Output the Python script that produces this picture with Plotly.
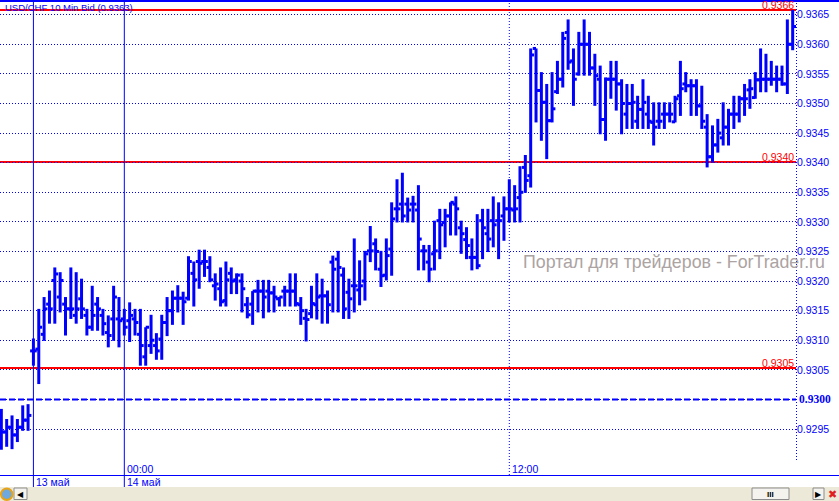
import plotly.graph_objects as go

W, H = 839, 501

# ---------------- data (10-minute bars, USD/CHF bid) ----------------
bar = list(range(149))

open_ = [
    0.92950, 0.92945, 0.92953, 0.92940, 0.92953, 0.92965,
    0.93082, 0.93085, 0.93110, 0.93161, 0.93201, 0.93173, 0.93161, 0.93153, 0.93142, 0.93170,
    0.93142, 0.93122, 0.93161, 0.93142, 0.93113, 0.93136, 0.93136,
    0.93136, 0.93133, 0.93136, 0.93110, 0.93072, 0.93091, 0.93091, 0.93102, 0.93130, 0.93150,
    0.93171, 0.93171, 0.93171, 0.93213, 0.93233, 0.93233, 0.93223, 0.93192, 0.93187, 0.93167,
    0.93213, 0.93202, 0.93200, 0.93160, 0.93161, 0.93183, 0.93183, 0.93183, 0.93180, 0.93170,
    0.93183, 0.93183, 0.93183, 0.93160, 0.93137, 0.93145, 0.93160,
    0.93175, 0.93175, 0.93232, 0.93237, 0.93210, 0.93181, 0.93192, 0.93185, 0.93200, 0.93251,
    0.93263, 0.93220, 0.93210, 0.93254, 0.93322, 0.93330, 0.93330, 0.93330, 0.93320, 0.93251,
    0.93232, 0.93246, 0.93302, 0.93299, 0.93310, 0.93330, 0.93290, 0.93270, 0.93240, 0.93240,
    0.93302, 0.93280, 0.93302, 0.93302, 0.93310, 0.93322, 0.93320, 0.93341,
    0.93392, 0.93378, 0.93593, 0.93522, 0.93502, 0.93471, 0.93520, 0.93541, 0.93620, 0.93572,
    0.93550, 0.93600, 0.93600, 0.93560, 0.93541, 0.93473, 0.93541, 0.93541, 0.93533, 0.93482,
    0.93500, 0.93470, 0.93490, 0.93482, 0.93468, 0.93470, 0.93482, 0.93482, 0.93469, 0.93513,
    0.93533, 0.93530, 0.93530, 0.93496, 0.93460, 0.93410, 0.93430, 0.93442, 0.93460, 0.93482,
    0.93482, 0.93508, 0.93523, 0.93510, 0.93540, 0.93541, 0.93541, 0.93541, 0.93541, 0.93533,
    0.93600,
]

high = [
    0.92984, 0.92967, 0.92973, 0.92967, 0.92990, 0.92992,
    0.93103, 0.93153, 0.93173, 0.93184, 0.93223, 0.93215, 0.93173, 0.93223, 0.93215, 0.93204,
    0.93153, 0.93192, 0.93173, 0.93153, 0.93142, 0.93192, 0.93173,
    0.93153, 0.93164, 0.93153, 0.93153, 0.93122, 0.93143, 0.93112, 0.93143, 0.93173, 0.93184,
    0.93193, 0.93182, 0.93242, 0.93233, 0.93253, 0.93253, 0.93242, 0.93213, 0.93223, 0.93233,
    0.93223, 0.93213, 0.93213, 0.93173, 0.93183, 0.93202, 0.93202, 0.93202, 0.93192, 0.93173,
    0.93192, 0.93213, 0.93213, 0.93173, 0.93153, 0.93192, 0.93213,
    0.93204, 0.93184, 0.93243, 0.93251, 0.93223, 0.93204, 0.93272, 0.93235, 0.93251, 0.93293,
    0.93272, 0.93251, 0.93272, 0.93333, 0.93372, 0.93383, 0.93341, 0.93344, 0.93362, 0.93261,
    0.93261, 0.93302, 0.93322, 0.93322, 0.93333, 0.93343, 0.93302, 0.93291, 0.93272, 0.93313,
    0.93322, 0.93322, 0.93343, 0.93333, 0.93343, 0.93372, 0.93362, 0.93394,
    0.93413, 0.93593, 0.93593, 0.93553, 0.93533, 0.93553, 0.93572, 0.93621, 0.93642, 0.93593,
    0.93621, 0.93642, 0.93621, 0.93584, 0.93564, 0.93544, 0.93572, 0.93572, 0.93541, 0.93533,
    0.93533, 0.93513, 0.93541, 0.93513, 0.93502, 0.93502, 0.93502, 0.93502, 0.93513, 0.93572,
    0.93553, 0.93541, 0.93541, 0.93530, 0.93482, 0.93463, 0.93474, 0.93502, 0.93491, 0.93513,
    0.93513, 0.93533, 0.93541, 0.93553, 0.93593, 0.93584, 0.93572, 0.93564, 0.93564, 0.93642,
    0.93658,
]

low = [
    0.92915, 0.92920, 0.92916, 0.92928, 0.92947, 0.92947,
    0.93057, 0.93026, 0.93099, 0.93128, 0.93128, 0.93147, 0.93108, 0.93136, 0.93128, 0.93136,
    0.93108, 0.93116, 0.93116, 0.93108, 0.93088, 0.93099, 0.93088,
    0.93108, 0.93097, 0.93108, 0.93057, 0.93057, 0.93077, 0.93067, 0.93067, 0.93107, 0.93126,
    0.93147, 0.93126, 0.93167, 0.93157, 0.93187, 0.93207, 0.93198, 0.93167, 0.93157, 0.93157,
    0.93178, 0.93178, 0.93147, 0.93137, 0.93126, 0.93147, 0.93137, 0.93147, 0.93147, 0.93157,
    0.93157, 0.93157, 0.93157, 0.93126, 0.93098, 0.93137, 0.93135,
    0.93128, 0.93128, 0.93147, 0.93147, 0.93136, 0.93136, 0.93147, 0.93159, 0.93167, 0.93232,
    0.93218, 0.93190, 0.93201, 0.93209, 0.93299, 0.93299, 0.93299, 0.93299, 0.93218, 0.93218,
    0.93198, 0.93218, 0.93237, 0.93257, 0.93277, 0.93277, 0.93246, 0.93237, 0.93218, 0.93220,
    0.93237, 0.93249, 0.93257, 0.93237, 0.93268, 0.93299, 0.93299, 0.93299,
    0.93349, 0.93358, 0.93468, 0.93437, 0.93406, 0.93468, 0.93516, 0.93527, 0.93557, 0.93496,
    0.93547, 0.93547, 0.93547, 0.93496, 0.93448, 0.93437, 0.93508, 0.93488, 0.93448, 0.93457,
    0.93457, 0.93457, 0.93457, 0.93457, 0.93429, 0.93457, 0.93457, 0.93468, 0.93468, 0.93479,
    0.93519, 0.93479, 0.93479, 0.93457, 0.93392, 0.93400, 0.93417, 0.93429, 0.93429, 0.93457,
    0.93468, 0.93479, 0.93491, 0.93508, 0.93519, 0.93519, 0.93530, 0.93519, 0.93530, 0.93516,
    0.93590,
]

close = [
    0.92945, 0.92953, 0.92940, 0.92953, 0.92965, 0.92973,
    0.93082, 0.93122, 0.93153, 0.93153, 0.93212, 0.93201, 0.93153, 0.93153, 0.93153, 0.93153,
    0.93122, 0.93142, 0.93153, 0.93128, 0.93108, 0.93173, 0.93133,
    0.93122, 0.93142, 0.93130, 0.93091, 0.93122, 0.93100, 0.93082, 0.93130, 0.93150, 0.93171,
    0.93171, 0.93165, 0.93233, 0.93202, 0.93230, 0.93233, 0.93202, 0.93195, 0.93165, 0.93202,
    0.93200, 0.93210, 0.93187, 0.93143, 0.93183, 0.93183, 0.93173, 0.93180, 0.93173, 0.93173,
    0.93183, 0.93183, 0.93162, 0.93150, 0.93135, 0.93162, 0.93173,
    0.93175, 0.93160, 0.93220, 0.93223, 0.93153, 0.93170, 0.93192, 0.93192, 0.93246, 0.93251,
    0.93250, 0.93209, 0.93243, 0.93305, 0.93322, 0.93310, 0.93320, 0.93330, 0.93271, 0.93251,
    0.93220, 0.93251, 0.93295, 0.93310, 0.93333, 0.93322, 0.93280, 0.93260, 0.93240, 0.93226,
    0.93290, 0.93271, 0.93295, 0.93302, 0.93322, 0.93322, 0.93322, 0.93350,
    0.93370, 0.93582, 0.93522, 0.93502, 0.93471, 0.93491, 0.93541, 0.93610, 0.93570, 0.93541,
    0.93600, 0.93600, 0.93560, 0.93547, 0.93473, 0.93541, 0.93541, 0.93533, 0.93500, 0.93500,
    0.93502, 0.93490, 0.93502, 0.93470, 0.93460, 0.93470, 0.93482, 0.93482, 0.93508, 0.93525,
    0.93530, 0.93530, 0.93496, 0.93470, 0.93410, 0.93430, 0.93450, 0.93460, 0.93482, 0.93482,
    0.93508, 0.93508, 0.93525, 0.93540, 0.93541, 0.93541, 0.93541, 0.93541, 0.93533, 0.93600,
    0.93630,
]

assert len(open_) == len(high) == len(low) == len(close) == len(bar), (
    len(open_), len(high), len(low), len(close))

y_ticks = [0.9295, 0.9300, 0.9305, 0.9310, 0.9315, 0.9320, 0.9325, 0.9330,
           0.9335, 0.9340, 0.9345, 0.9350, 0.9355, 0.9360, 0.9365]
y_tick_text = ["0.9295", "", "0.9305", "0.9310", "0.9315", "0.9320",
               "0.9325", "0.9330", "0.9335", "0.9340", "0.9345", "0.9350",
               "0.9355", "0.9360", "0.9365"]
base_level = 0.9300
base_text = "0.9300"

levels = [0.93658, 0.93401, 0.93053]
level_text = ["0.9366", "0.9340", "0.9305"]

day_sep = [6, 23]
day_text = ["13 май", "14 май"]
time_mark = [23, 95]
time_text = ["00:00", "12:00"]

title_text = "USD/CHF 10 Min Bid (0.9363)"
watermark = "Портал для трейдеров - ForTrader.ru"

# ---------------- layout helpers ----------------
BLUE = "#0000ff"
RED = "#ff0000"
FONT = "Liberation Sans, Arial, sans-serif"
PL, PR, PT, PB = 0, 796, 2, 475          # plot area in pixels
TICK = 0.62                              # open/close tick length, in bar widths


def px(x):
    return x / W


def py(y):
    return 1 - y / H


# OHLC bars as line segments built from the data (vertical high-low, open tick left,
# close tick right)
bx, by = [], []
for i, o, h, l, c in zip(bar, open_, high, low, close):
    bx += [i, i, None, i - TICK, i, None, i, i + TICK, None]
    by += [l, h, None, o, o, None, c, c, None]

fig = go.Figure(go.Scatter(
    x=bx, y=by, mode="lines", line=dict(color=BLUE, width=3),
    hoverinfo="skip", showlegend=False,
))

shapes = []
# bottom gray scroll band
shapes.append(dict(type="rect", xref="paper", yref="paper", x0=0, x1=1, y0=0, y1=py(487),
                   fillcolor="#ECE9D8", line=dict(width=0), layer="below"))
# red level lines
for lv in levels:
    shapes.append(dict(type="line", xref="paper", yref="y", x0=px(PL), x1=px(PR), y0=lv, y1=lv,
                       line=dict(color=RED, width=2), layer="between"))
# 0.9300 dashed line
shapes.append(dict(type="line", xref="paper", yref="y", x0=px(PL), x1=px(PR),
                   y0=base_level, y1=base_level,
                   line=dict(color=BLUE, width=2, dash="6px,3px"), layer="between"))
# day separators
for s in day_sep:
    shapes.append(dict(type="line", xref="x", yref="paper", x0=s, x1=s, y0=py(487), y1=1,
                       line=dict(color=BLUE, width=1), layer="between"))
# time mark (12:00) dotted
shapes.append(dict(type="line", xref="x", yref="paper", x0=time_mark[1], x1=time_mark[1],
                   y0=py(PB), y1=1, line=dict(color=BLUE, width=1, dash="1px,2px"),
                   layer="between"))
# right price-axis dotted line
shapes.append(dict(type="line", xref="paper", yref="paper", x0=px(796.5), x1=px(796.5),
                   y0=py(460), y1=1, line=dict(color=BLUE, width=1, dash="1px,2px")))
# top and bottom frame lines
shapes.append(dict(type="line", xref="paper", yref="paper", x0=0, x1=1, y0=py(1), y1=py(1),
                   line=dict(color=BLUE, width=2)))
shapes.append(dict(type="line", xref="paper", yref="paper", x0=0, x1=1, y0=py(475.5),
                   y1=py(475.5), line=dict(color=BLUE, width=1)))
# scrollbar widgets
for (x0, x1) in [(14, 27), (752, 789), (813, 824)]:
    shapes.append(dict(type="rect", xref="paper", yref="paper", x0=px(x0), x1=px(x1),
                       y0=py(499.5), y1=py(488), fillcolor="#F4F3EE",
                       line=dict(color="#8C8C8C", width=1)))
shapes.append(dict(type="circle", xref="paper", yref="paper", x0=px(1), x1=px(12.5),
                   y0=py(500), y1=py(488.5), fillcolor="#6FA8DC",
                   line=dict(color="#E8A317", width=2)))

annotations = []
annotations.append(dict(text=title_text, xref="paper", yref="paper", x=px(3), y=py(7.5),
                        xanchor="left", yanchor="middle", showarrow=False,
                        font=dict(family=FONT, size=9.5, color=BLUE)))
for lv, t in zip(levels, level_text):
    annotations.append(dict(text=t, xref="paper", yref="y", x=px(795), y=lv,
                            xanchor="right", yanchor="bottom", showarrow=False, yshift=-2,
                            borderpad=0,
                            font=dict(family=FONT, size=10.5, color=RED)))
annotations.append(dict(text="<b>" + base_text + "</b>", xref="paper", yref="y", x=px(798),
                        y=base_level, xanchor="left", yanchor="middle", showarrow=False,
                        borderpad=0,
                        font=dict(family="Liberation Serif, Times New Roman, serif",
                                  size=11.5, color=BLUE)))
for s, t in zip(time_mark, time_text):
    annotations.append(dict(text=t, xref="x", yref="paper", x=s, y=py(468.5),
                            xanchor="left", yanchor="middle", showarrow=False, xshift=1,
                            font=dict(family=FONT, size=10.5, color=BLUE)))
for s, t in zip(day_sep, day_text):
    annotations.append(dict(text=t, xref="x", yref="paper", x=s, y=py(482),
                            xanchor="left", yanchor="middle", showarrow=False, xshift=1,
                            font=dict(family=FONT, size=10.5, color=BLUE)))
annotations.append(dict(text=watermark, xref="paper", yref="paper", x=px(521), y=py(262),
                        xanchor="left", yanchor="middle", showarrow=False,
                        font=dict(family=FONT, size=17.8, color="#ACA3A3")))
annotations.append(dict(text="<b>III</b>", xref="paper", yref="paper", x=px(770.5), y=py(494),
                        xanchor="center", yanchor="middle", showarrow=False,
                        font=dict(family=FONT, size=8, color="#000000")))
annotations.append(dict(text="◀", xref="paper", yref="paper", x=px(20.5), y=py(494),
                        xanchor="center", yanchor="middle", showarrow=False,
                        font=dict(family="DejaVu Sans", size=8, color="#000000")))
annotations.append(dict(text="▶", xref="paper", yref="paper", x=px(818.5), y=py(494),
                        xanchor="center", yanchor="middle", showarrow=False,
                        font=dict(family="DejaVu Sans", size=8, color="#000000")))
annotations.append(dict(text="✖", xref="paper", yref="paper", x=px(832), y=py(494),
                        xanchor="center", yanchor="middle", showarrow=False,
                        font=dict(family="DejaVu Sans", size=11, color="#E02020")))

y_min = 0.9365 - (PB - 14.7) / 59190
y_max = 0.9365 + (14.7 - PT) / 59190

fig.update_layout(
    width=W, height=H, margin=dict(l=0, r=0, t=0, b=0),
    paper_bgcolor="white", plot_bgcolor="white", showlegend=False,
    shapes=shapes, annotations=annotations,
    xaxis=dict(domain=[px(PL), px(PR)], range=[-0.25, 148.62], showgrid=False,
               showticklabels=False, zeroline=False, showline=False, ticks="",
               fixedrange=True),
    yaxis=dict(domain=[py(PB), py(PT)], range=[y_min, y_max], side="right",
               tickvals=y_ticks, ticktext=y_tick_text, ticks="",
               tickfont=dict(family=FONT, size=10.5, color=BLUE),
               showgrid=True, gridcolor=BLUE, gridwidth=1, griddash="1px,2px",
               zeroline=False, showline=False, fixedrange=True),
)

fig.write_html("out.html", config={"displayModeBar": False},
               post_script="document.body.style.margin='0px';")
